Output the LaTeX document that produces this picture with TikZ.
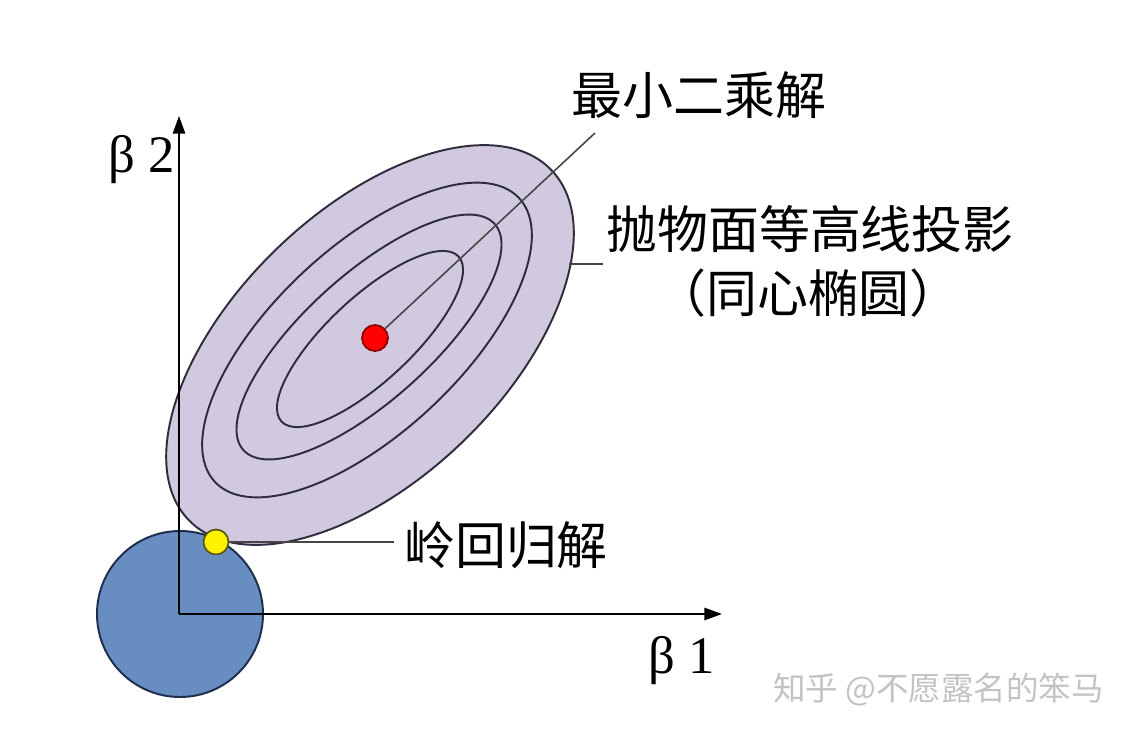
\documentclass[tikz,border=0pt]{standalone}
\usepackage{fontspec}
\newfontfamily\cjk{Noto Sans CJK SC}
\newfontfamily\grk{Liberation Serif}
\usetikzlibrary{arrows.meta}
\definecolor{lav}{RGB}{208,201,223}
\definecolor{contour}{RGB}{45,45,60}
\definecolor{cblue}{RGB}{104,141,192}
\definecolor{cnavy}{RGB}{30,45,75}
\definecolor{wmgray}{RGB}{195,195,195}
\definecolor{leadgray}{RGB}{70,70,70}
\definecolor{dred}{RGB}{140,0,0}
\definecolor{dyel}{RGB}{90,90,20}
\begin{document}
\begin{tikzpicture}[x=0.02cm,y=-0.02cm,
  contourline/.style={draw=contour,line width=1.1pt},
  axisline/.style={draw=black,line width=1.1pt,-{Triangle[length=10pt,width=7pt]}},
  leader/.style={draw=leadgray,line width=0.9pt},
  cjklabel/.style={inner sep=0pt,font=\cjk\fontsize{29pt}{29pt}\selectfont},
  betalabel/.style={inner sep=0pt,font=\grk\fontsize{30pt}{30pt}\selectfont},
  dot/.style={circle,inner sep=0pt,minimum size=0.5cm,line width=1pt}]
\useasboundingbox (0,0) rectangle (1146,738);
\fill[white] (0,0) rectangle (1146,738);
% outer filled ellipse
\filldraw[fill=lav,contourline,rotate around={44:(370,345)}] (370,345) ellipse [x radius=252, y radius=134];
% inner contours
\draw[contourline,rotate around={43:(367,340)}] (367,340) ellipse [x radius=208, y radius=93];
\draw[contourline,rotate around={42:(369,337)}] (369,337) ellipse [x radius=169, y radius=63];
\draw[contourline,rotate around={43:(370,339)}] (370,339) ellipse [x radius=121, y radius=42];
% ridge constraint circle
\filldraw[fill=cblue,draw=cnavy,line width=1.1pt] (180,614) circle [radius=83];
% axes
\coordinate (O) at (179,614);
\coordinate (ytip) at (179,116);
\coordinate (xtip) at (722,614);
\draw[axisline] (O) -- (ytip);
\draw[axisline] (O) -- (xtip);
% points
\node[dot,fill=red,draw=dred,minimum size=0.52cm] (ls) at (375,338) {};
\node[dot,fill=yellow,draw=dyel] (ridge) at (216,542) {};
% leader ends
\coordinate (lsend) at (595,133);
\coordinate (ebd) at (569,264);
\coordinate (eend) at (603,264);
\coordinate (rend) at (394,542);
\draw[leader] (ls) -- (lsend);
\draw[leader] (ebd) -- (eend);
\draw[leader] (ridge) -- (rend);
% labels
\node[cjklabel] (tls) at (699,95) {最小二乘解};
\node[cjklabel] (tpar) at (810,229) {抛物面等高线投影};
\node[cjklabel] (tcon) at (808,293) {（同心椭圆）};
\node[cjklabel] (tridge) at (506,545) {岭回归解};
\node[betalabel,anchor=base west] (b2) at (108,172) {β 2};
\node[betalabel,anchor=base west] (b1) at (648,673) {β 1};
\node[inner sep=0pt,anchor=west,text=wmgray,font=\cjk\fontsize{18.5pt}{18.5pt}\selectfont] (wmk) at (773,690) {知乎 @不愿露名的笨马};
\end{tikzpicture}
\end{document}
